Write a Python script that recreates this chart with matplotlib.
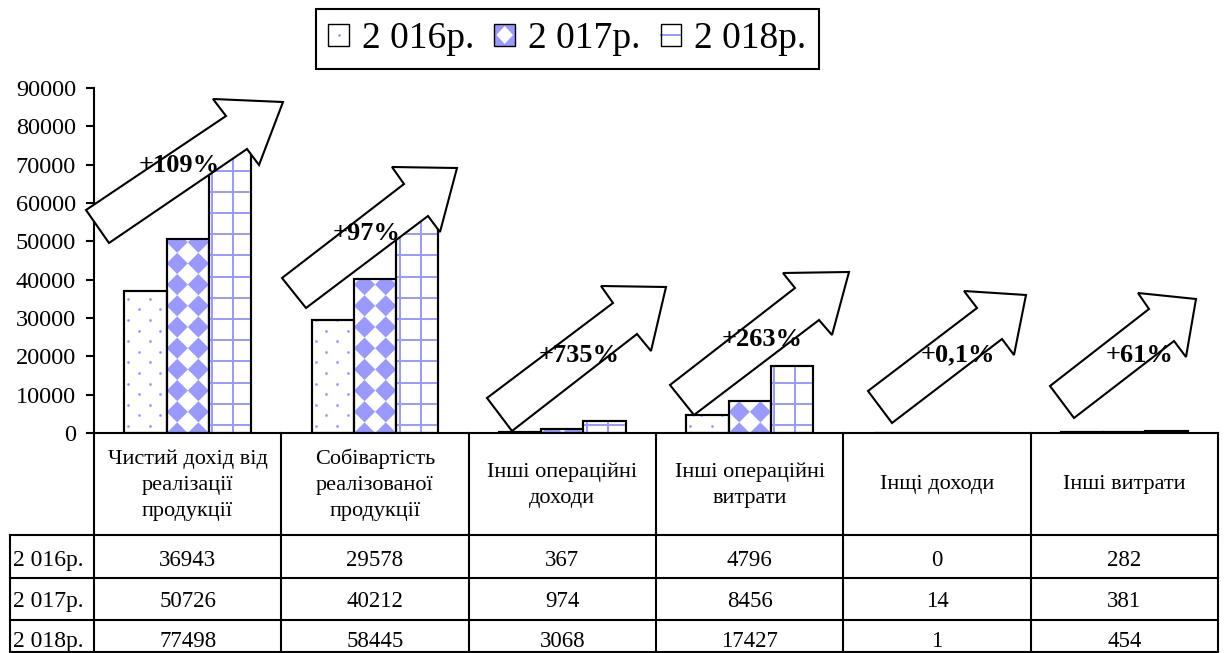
import numpy as np
import matplotlib
matplotlib.use('Agg')
import matplotlib.pyplot as plt
from matplotlib.patches import Polygon, Rectangle, Patch
from matplotlib.lines import Line2D
from matplotlib.collections import PolyCollection, LineCollection
from matplotlib.legend_handler import HandlerBase

plt.rcParams['font.family'] = ['Liberation Serif', 'DejaVu Serif']

# показники, тис. грн
categories = ['Чистий дохід від\nреалізації\nпродукції',
              'Собівартість\nреалізованої\nпродукції',
              'Інші операційні\nдоходи',
              'Інші операційні\nвитрати',
              'Інщі доходи',
              'Інші витрати']
years = ['2 016р.', '2 017р.', '2 018р.']
v2016 = [36943, 29578, 367, 4796, 0, 282]
v2017 = [50726, 40212, 974, 8456, 14, 381]
v2018 = [77498, 58445, 3068, 17427, 1, 454]
growth_labels = ['+109%', '+97%', '+735%', '+263%', '+0,1%', '+61%']

BLUE = '#9999ff'
W, H = 1225, 653
TILE = 21.2  # крок візерунка, px

fig = plt.figure(figsize=(W / 100, H / 100), dpi=100)
ax_left, ax_right, ax_top, ax_base = 94, 1218, 88, 433
ax = fig.add_axes([ax_left / W, 1 - ax_base / H,
                   (ax_right - ax_left) / W, (ax_base - ax_top) / H])

n = len(categories)
x = np.arange(n)
bw = 0.225
ax.set_xlim(-0.5, n - 0.5)
ax.set_ylim(0, 90000)

# пікселів на одиницю даних
px_x = (ax_right - ax_left) / n
px_y = (ax_base - ax_top) / 90000


def dots_fill(rect):
    # рідкі точки в шаховому порядку
    x0, w, h = rect.get_x(), rect.get_width(), rect.get_height()
    xs, ys = [], []
    j = 0
    while (7 + j * TILE / 2) / px_y <= h:
        cy = (7 + j * TILE / 2) / px_y
        off = 4 if j % 2 == 0 else 4 + TILE / 2
        cx = x0 + off / px_x
        while cx < x0 + w:
            xs.append(cx)
            ys.append(cy)
            cx += TILE / px_x
        j += 1
    sc = ax.scatter(xs, ys, s=4, color=BLUE, linewidths=0, zorder=2.5)
    sc.set_clip_path(rect)


def diamond_fill(rect):
    # блакитні ромби в шаховому порядку
    sx = TILE / px_x
    sy = TILE / px_y
    x0, w, h = rect.get_x(), rect.get_width(), rect.get_height()
    polys = []
    cy = 0.0
    while cy <= h + sy:
        cx = x0 + sx / 2
        while cx <= x0 + w + sx:
            polys.append([(cx - sx / 2, cy), (cx, cy + sy / 2),
                          (cx + sx / 2, cy), (cx, cy - sy / 2)])
            cx += sx
        cy += sy
    pc = PolyCollection(polys, facecolor=BLUE, edgecolor='none', zorder=2.5)
    ax.add_collection(pc)
    pc.set_clip_path(rect)


def grid_fill(rect):
    # клітинка
    x0, w, h = rect.get_x(), rect.get_width(), rect.get_height()
    segs = []
    cx = x0 + 3.5 / px_x
    while cx < x0 + w:
        segs.append([(cx, 0), (cx, h)])
        cx += TILE / px_x
    cy = 8 / px_y
    while cy < h:
        segs.append([(x0, cy), (x0 + w, cy)])
        cy += TILE / px_y
    lc = LineCollection(segs, colors=BLUE, linewidths=1.4, zorder=2.5)
    ax.add_collection(lc)
    lc.set_clip_path(rect)


series = [v2016, v2017, v2018]
fills = [dots_fill, diamond_fill, grid_fill]
for i, vals in enumerate(series):
    pos = x + (i - 1) * bw
    bars = ax.bar(pos, vals, bw, color='white', edgecolor='black',
                  linewidth=1.5, zorder=2)
    for r in bars.patches:
        if r.get_height() > 0:
            fills[i](r)
    # контур поверх візерунка
    ax.bar(pos, vals, bw, fill=False, edgecolor='black', linewidth=1.5, zorder=3)

ax.set_yticks(range(0, 90001, 10000))
ax.set_xticks([])
ax.tick_params(axis='y', labelsize=17.5, length=6, width=1.5, pad=7)
for s in ['top', 'right']:
    ax.spines[s].set_visible(False)
for s in ['left', 'bottom']:
    ax.spines[s].set_linewidth(1.5)

# накладка в пікселях: таблиця і стрілки
ov = fig.add_axes([0, 0, 1, 1], zorder=5)
ov.set_xlim(0, W)
ov.set_ylim(H, 0)
ov.axis('off')

edges = [ax_left + px_x * k for k in range(n + 1)]
row_lines = [535, 578, 620, 652]
baselines = [566, 607, 647]
tbl_left = 10
lw = 1.5
for e in edges:
    ov.plot([e, e], [ax_base, 652], color='black', lw=lw, solid_capstyle='projecting')
ov.plot([tbl_left, tbl_left], [535, 652], color='black', lw=lw, solid_capstyle='projecting')
for yl in row_lines:
    ov.plot([tbl_left, ax_right], [yl, yl], color='black', lw=lw, solid_capstyle='projecting')

for k, cat in enumerate(categories):
    cx = (edges[k] + edges[k + 1]) / 2
    ov.text(cx, 485, cat, ha='center', va='center', fontsize=16, linespacing=1.5)

for j, (yr, vals) in enumerate(zip(years, series)):
    by = baselines[j]
    ov.text(tbl_left + 3, by, yr, ha='left', va='baseline', fontsize=17)
    for k, v in enumerate(vals):
        cx = (edges[k] + edges[k + 1]) / 2
        ov.text(cx, by, str(v), ha='center', va='baseline', fontsize=16.5)

# стрілки зростання
arrows = [
    [(86, 210), (226, 116), (213, 99), (283, 102), (259, 165), (247, 149), (109, 243)],
    [(282, 278), (404, 184), (392, 167), (457, 168), (440, 232), (428, 216), (306, 308)],
    [(487, 398), (613, 303), (601, 286), (666, 287), (651, 351), (637, 334), (512, 431)],
    [(670, 385), (795, 288), (783, 273), (849, 272), (832, 335), (819, 320), (694, 415)],
    [(868, 391), (977, 308), (964, 291), (1026, 295), (1014, 355), (1002, 339), (892, 423)],
    [(1050, 386), (1149, 309), (1138, 293), (1196, 299), (1186, 357), (1174, 341), (1074, 418)],
]
label_pos = [(179, 166), (367, 234), (579, 356), (762, 339), (958, 355), (1140, 355)]
for verts, lab, (lx, ly) in zip(arrows, growth_labels, label_pos):
    ov.add_patch(Polygon(verts, closed=True, facecolor='white', edgecolor='black',
                         linewidth=1.5, joinstyle='miter'))
    ov.text(lx, ly, lab, ha='center', va='center', fontsize=19, fontweight='bold')


class SwatchHandler(HandlerBase):
    # маленький квадрат із фрагментом візерунка
    def __init__(self, kind):
        super().__init__()
        self.kind = kind

    def create_artists(self, legend, orig_handle, xdescent, ydescent,
                       width, height, fontsize, trans):
        x0, y0 = -xdescent, -ydescent
        cx, cy = x0 + width / 2, y0 + height / 2
        arts = [Rectangle((x0, y0), width, height, facecolor='white',
                          edgecolor='none', transform=trans)]
        if self.kind == 'dots':
            arts.append(Line2D([cx], [cy], marker='o', markersize=2, color=BLUE,
                               markeredgewidth=0, transform=trans))
        elif self.kind == 'diamonds':
            arts.append(Rectangle((x0, y0), width, height, facecolor=BLUE,
                                  edgecolor='none', transform=trans))
            arts.append(Polygon([(x0 + width * 0.1, cy), (cx, y0 + height * 0.9),
                                 (x0 + width * 0.9, cy), (cx, y0 + height * 0.1)],
                                facecolor='white', edgecolor='none', transform=trans))
        else:
            arts.append(Line2D([x0, x0 + width], [cy, cy], color=BLUE, lw=1.4,
                               transform=trans))
        arts.append(Rectangle((x0, y0), width, height, fill=False,
                              edgecolor='black', linewidth=1, transform=trans))
        return arts


handles = [Patch(label=y) for y in years]
kinds = ['dots', 'diamonds', 'grid']
leg = fig.legend(handles, years, loc='upper center',
                 bbox_to_anchor=(567.5 / W, 1 - 9 / H), ncol=3, fontsize=27,
                 frameon=True, fancybox=False, edgecolor='black', framealpha=1,
                 handlelength=0.55, handleheight=0.55, handletextpad=0.35,
                 columnspacing=0.53, borderpad=0.34, borderaxespad=0,
                 handler_map={h: SwatchHandler(k) for h, k in zip(handles, kinds)})
leg.get_frame().set_linewidth(1.5)

fig.savefig('out.png', dpi=100)
